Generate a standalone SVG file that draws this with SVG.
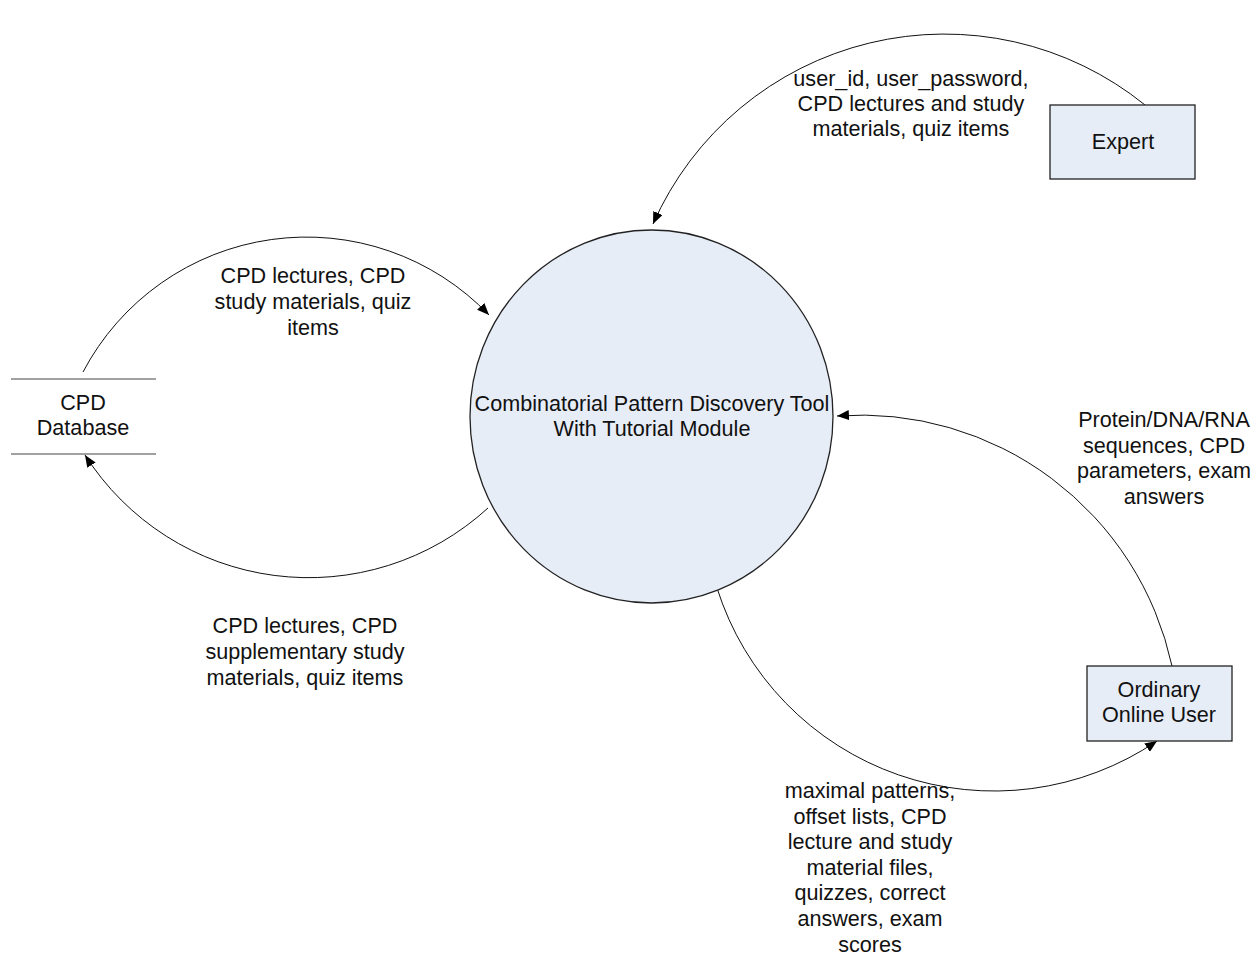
<svg xmlns="http://www.w3.org/2000/svg" width="1258" height="960" viewBox="0 0 1258 960">
<defs>
<style>
text{font-family:"Liberation Sans",Arial,sans-serif;font-size:21.6px;fill:#111;text-anchor:middle}
.node{fill:#E7EDF7;stroke:#222;stroke-width:1.3}
.store{stroke:#444;stroke-width:1.2;fill:none}
.flow{fill:none;stroke:#111;stroke-width:1;marker-end:url(#arrow)}
</style>
<marker id="arrow" markerUnits="userSpaceOnUse" markerWidth="13" markerHeight="10" refX="12" refY="5" orient="auto">
<path d="M0,0 L12,5 L0,10 z" fill="#000"/>
</marker>
</defs>
<rect width="1258" height="960" fill="#fff"/>
<g id="connectors">
<path class="flow" d="M1145,105 A318.7,318.7 0 0 0 653,224"/>
<path class="flow" d="M83,372 A252.6,252.6 0 0 1 489,315"/>
<path class="flow" d="M488,508 A265.4,265.4 0 0 1 85,455"/>
<path class="flow" d="M1172,666 A318.2,318.2 0 0 0 837,416"/>
<path class="flow" d="M717,588 A290.5,290.5 0 0 0 1157,741"/>
</g>
<g id="process">
<ellipse class="node" cx="651.5" cy="416.5" rx="181.5" ry="186.5"/>
<text x="652" y="410.5">Combinatorial Pattern Discovery Tool</text>
<text x="652" y="435.5">With Tutorial Module</text>
</g>
<g id="expert">
<rect class="node" x="1050" y="105" width="145" height="74"/>
<text x="1123" y="149">Expert</text>
</g>
<g id="database">
<line class="store" x1="11" y1="379" x2="156" y2="379"/>
<line class="store" x1="11" y1="454" x2="156" y2="454"/>
<text x="83" y="410">CPD</text>
<text x="83" y="435">Database</text>
</g>
<g id="online-user">
<rect class="node" x="1087" y="666" width="145" height="75"/>
<text x="1159" y="697">Ordinary</text>
<text x="1159" y="722">Online User</text>
</g>
<g id="labels">
<text x="911" y="86">user_id, user_password,</text>
<text x="911" y="111">CPD lectures and study</text>
<text x="911" y="136">materials, quiz items</text>
<text x="313" y="283">CPD lectures, CPD</text>
<text x="313" y="309">study materials, quiz</text>
<text x="313" y="335">items</text>
<text x="305" y="633">CPD lectures, CPD</text>
<text x="305" y="659">supplementary study</text>
<text x="305" y="685">materials, quiz items</text>
<text x="1164" y="427">Protein/DNA/RNA</text>
<text x="1164" y="453">sequences, CPD</text>
<text x="1164" y="478">parameters, exam</text>
<text x="1164" y="504">answers</text>
<text x="870" y="798">maximal patterns,</text>
<text x="870" y="824">offset lists, CPD</text>
<text x="870" y="849">lecture and study</text>
<text x="870" y="875">material files,</text>
<text x="870" y="900">quizzes, correct</text>
<text x="870" y="926">answers, exam</text>
<text x="870" y="952">scores</text>
</g>
</svg>
